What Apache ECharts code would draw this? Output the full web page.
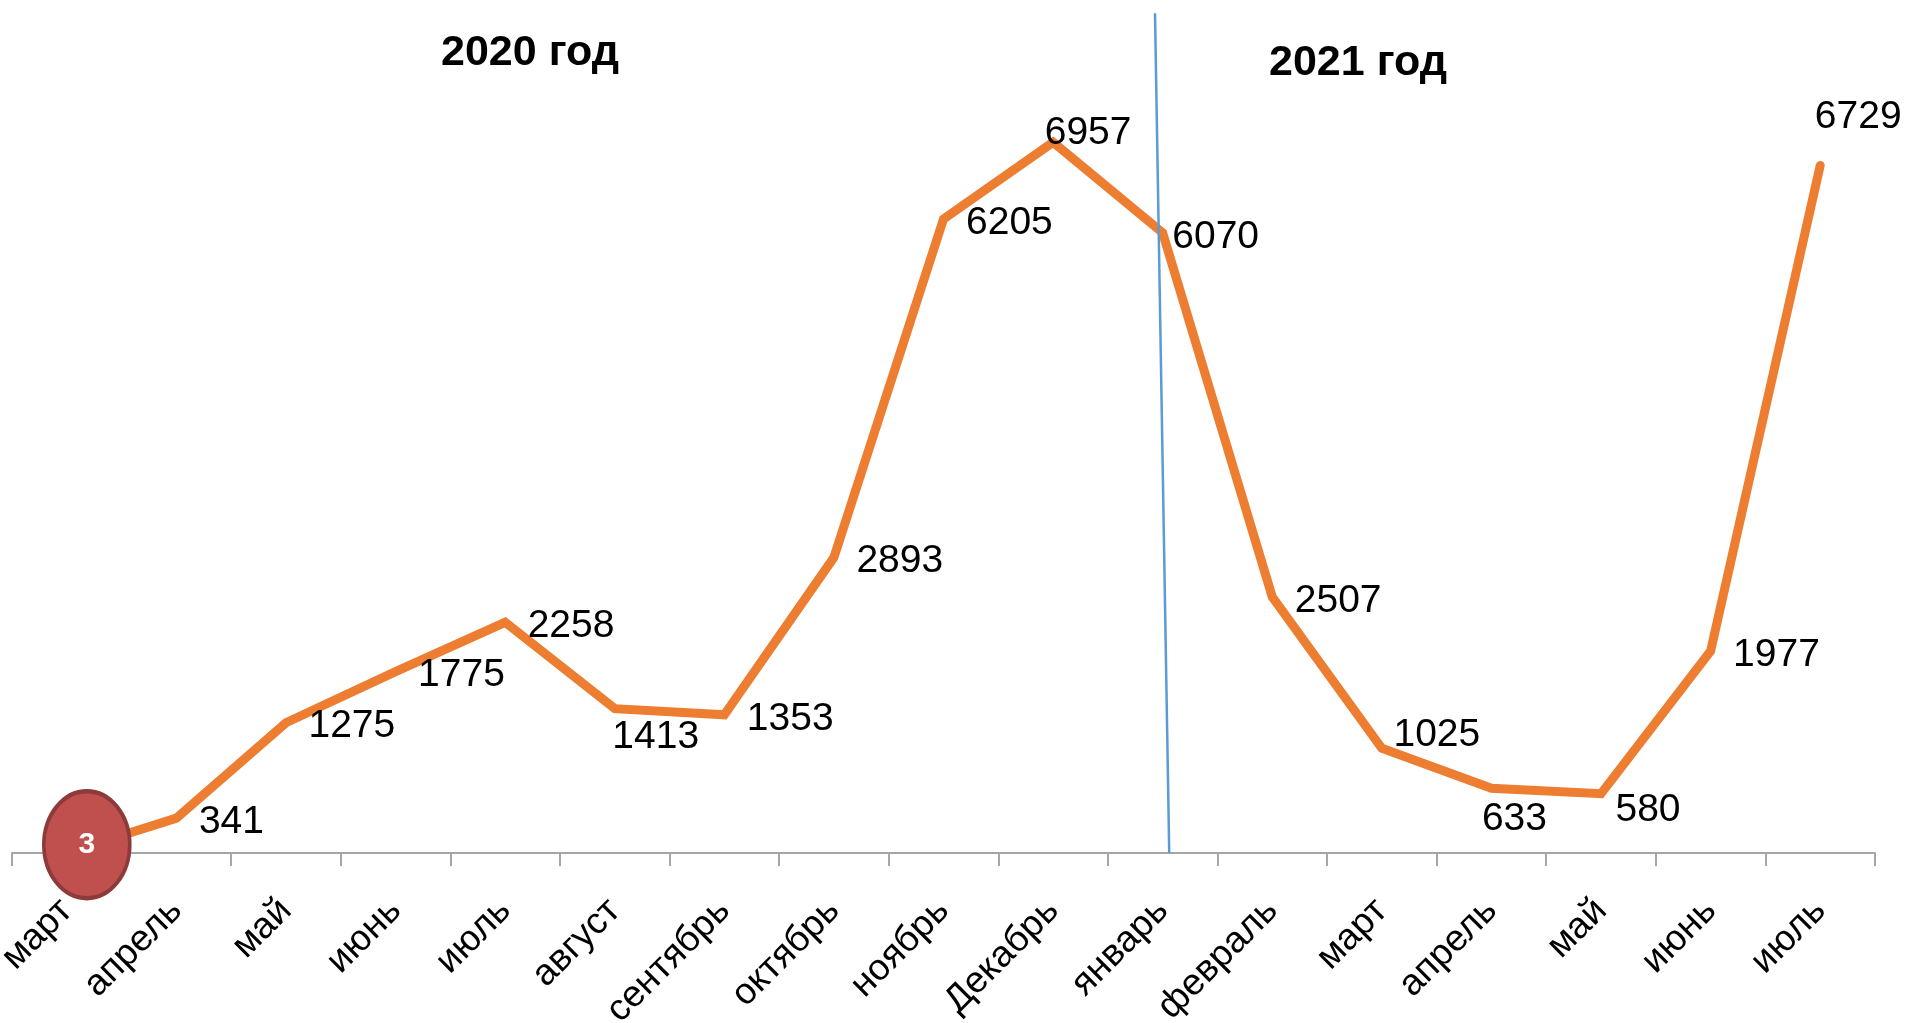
<!DOCTYPE html>
<html>
<head>
<meta charset="utf-8">
<script src="https://cdn.jsdelivr.net/npm/echarts@6/dist/echarts.min.js"></script>
<style>
html,body{margin:0;padding:0;background:#fff;overflow:hidden;}
#chart{width:1915px;height:1023px;}
</style>
</head>
<body>
<div id="chart"></div>
<script>
// ---- data ----
const categories = ['март','апрель','май','июнь','июль','август','сентябрь','октябрь','ноябрь','Декабрь','январь','февраль','март','апрель','май','июнь','июль'];
const values = [3, 341, 1275, 1775, 2258, 1413, 1353, 2893, 6205, 6957, 6070, 2507, 1025, 633, 580, 1977, 6729];
const circledIndex = 0;
const dividerLine = [[9.93, 8220], [10.06, 0]];
const yearTitles = ['2020 год', '2021 год'];

// label placement tweaks (pixels), by point index
const labelOffsets = {5: [41, 29], 9: [35, -9], 10: [53, 4], 12: [55, -13], 13: [23, 31], 14: [47, 17], 16: [38, -48]};

const FONT = 'Liberation Sans';
const lineData = values.map((v, i) => {
  const o = {value: v};
  if (i === circledIndex) o.label = {show: false};
  else if (labelOffsets[i]) o.label = {position: 'inside', offset: labelOffsets[i]};
  return o;
});

const chart = echarts.init(document.getElementById('chart'), null, {renderer: 'canvas'});
chart.setOption({
  animation: false,
  backgroundColor: '#ffffff',
  grid: {left: 12, right: 40, top: 5, bottom: 170, containLabel: false, outerBoundsMode: 'none'},
  xAxis: [{
    type: 'category',
    data: categories,
    boundaryGap: true,
    axisLine: {show: true, lineStyle: {color: '#a6a6a6', width: 2}},
    axisTick: {show: true, interval: 0, length: 13, lineStyle: {color: '#a6a6a6', width: 2}},
    axisLabel: {interval: 0, rotate: 45, margin: 52, color: '#000', fontSize: 37, fontFamily: FONT, hideOverlap: false},
    splitLine: {show: false}
  }, {
    type: 'value', min: -0.5, max: 16.5, show: false
  }],
  yAxis: {type: 'value', min: 0, max: 8300, show: false, splitLine: {show: false}},
  graphic: [
    {type: 'text', x: 530, y: 53, z: 10, style: {text: yearTitles[0], font: 'bold 43px "Liberation Sans"', fill: '#000', textAlign: 'center', textVerticalAlign: 'middle'}},
    {type: 'text', x: 1358, y: 63, z: 10, style: {text: yearTitles[1], font: 'bold 43px "Liberation Sans"', fill: '#000', textAlign: 'center', textVerticalAlign: 'middle'}}
  ],
  series: [{
    type: 'line',
    data: lineData,
    showSymbol: true,
    symbol: 'circle',
    symbolSize: 1,
    itemStyle: {color: '#ed7d31'},
    lineStyle: {color: '#ed7d31', width: 9, cap: 'round', join: 'miter'},
    label: {show: true, position: 'right', distance: 22, offset: [0, 4], color: '#000', fontSize: 39, fontFamily: FONT},
    emphasis: {disabled: true},
    z: 2
  }, {
    type: 'line',
    xAxisIndex: 1,
    data: dividerLine,
    symbol: 'none',
    lineStyle: {color: '#5b9bd5', width: 2.5},
    emphasis: {disabled: true},
    z: 3
  }, {
    type: 'scatter',
    data: [[circledIndex, values[circledIndex]]],
    symbol: 'circle',
    symbolSize: [86, 107],
    symbolOffset: [20, -8],
    itemStyle: {color: '#c0504d', borderColor: '#8c3b3a', borderWidth: 4, opacity: 1},
    label: {show: true, position: 'inside', formatter: (p) => String(p.value[1]), color: '#fff', fontWeight: 'bold', fontSize: 30, fontFamily: FONT},
    emphasis: {disabled: true},
    z: 5
  }]
});
</script>
</body>
</html>
